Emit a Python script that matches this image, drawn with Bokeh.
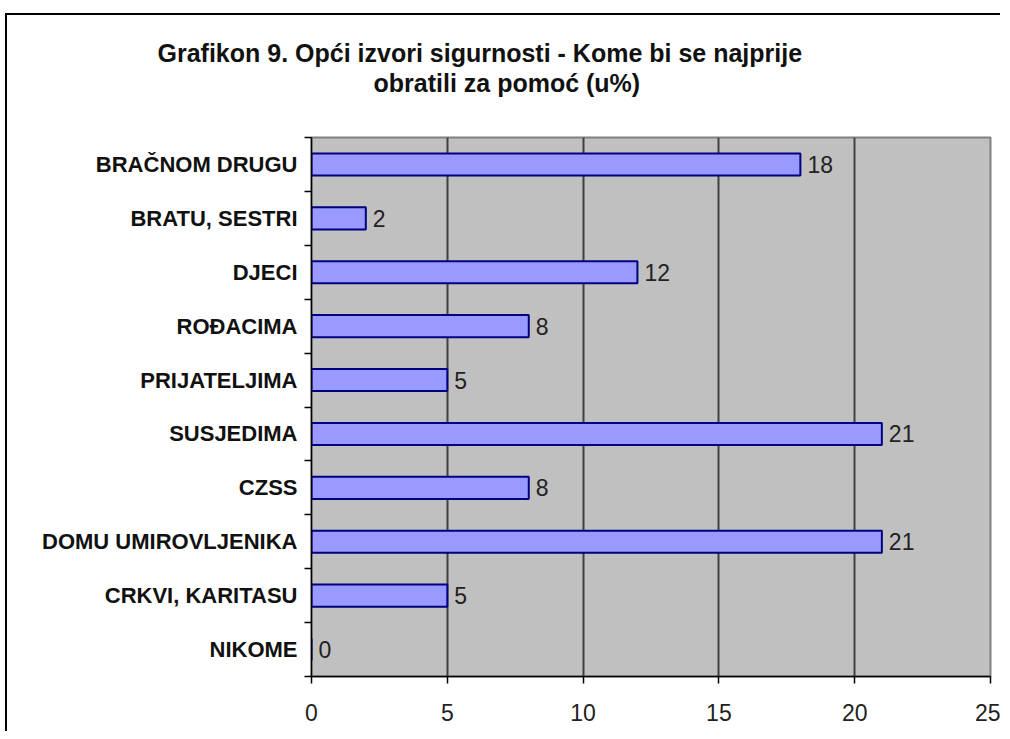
from bokeh.plotting import figure
from bokeh.models import (Range1d, FixedTicker, Title, ColumnDataSource)
from bokeh.core.properties import value
from bokeh.embed import file_html
from bokeh.resources import INLINE

# ---- data ----
categories = ["BRAČNOM DRUGU", "BRATU, SESTRI", "DJECI", "ROĐACIMA", "PRIJATELJIMA",
              "SUSJEDIMA", "CZSS", "DOMU UMIROVLJENIKA", "CRKVI, KARITASU", "NIKOME"]
values = [18, 2, 12, 8, 5, 21, 8, 21, 5, 0]
x_ticks = [0, 5, 10, 15, 20, 25]
title_line1 = "Grafikon 9. Opći izvori sigurnosti - Kome bi se najprije"
title_line2 = "obratili za pomoć (u%)"

n = len(categories)
positions = [n - 1 - i for i in range(n)]
boundaries = [k - 0.5 for k in range(n + 1)]

src = ColumnDataSource(dict(cat=categories, val=values, y=positions,
                            lbl=[str(v) for v in values]))

W, H = 1000, 731
p = figure(width=W, height=H, output_backend="svg", toolbar_location=None,
           x_range=Range1d(x_ticks[0], x_ticks[-1]), y_range=Range1d(-0.5, n - 0.5),
           min_border_left=311, min_border_right=10, min_border_top=137,
           min_border_bottom=55)

p.background_fill_color = "#C0C0C0"
p.border_fill_color = None
p.outline_line_color = "#808080"
p.outline_line_width = 2
# outer chart border (left and top edges only; right/bottom fall outside the picture)
p.styles = {"box-shadow": "inset 5px 13px 0 0 white, inset 7px 15px 0 0 black",
            "background-color": "white"}

SANS = "Liberation Sans, Arial"

# x axis
xa = p.xaxis[0]
xa.ticker = FixedTicker(ticks=x_ticks)
xa.axis_line_color = "black"
xa.axis_line_width = 1.5
xa.major_tick_line_color = "black"
xa.major_tick_line_width = 1.5
xa.major_tick_out = 7
xa.major_tick_in = 0
xa.minor_tick_line_color = None
xa.major_label_standoff = 20
xa.major_label_text_font = SANS
xa.major_label_text_font_size = "23px"
xa.major_label_text_color = "#222222"

# y axis
ya = p.yaxis[0]
ya.ticker = FixedTicker(ticks=positions, minor_ticks=boundaries)
ya.major_label_overrides = {pos: cat for pos, cat in zip(positions, categories)}
ya.axis_line_color = "black"
ya.axis_line_width = 1.5
ya.major_tick_line_color = None
ya.major_tick_out = 0
ya.major_tick_in = 0
ya.minor_tick_line_color = "black"
ya.minor_tick_line_width = 1.5
ya.minor_tick_out = 7
ya.minor_tick_in = 0
ya.major_label_standoff = 7
ya.major_label_text_font = SANS
ya.major_label_text_font_style = "bold"
ya.major_label_text_font_size = "22px"
ya.major_label_text_color = "#111111"

# grid
p.xgrid.ticker = FixedTicker(ticks=x_ticks[1:-1])
p.xgrid.grid_line_color = "#404040"
p.xgrid.grid_line_width = 2
p.ygrid.grid_line_color = None

# bars
p.hbar(y="y", left=0, right="val", height=0.41, source=src,
       fill_color="#9999FF", line_color="#000080", line_width=2)

# value labels
p.text(x="val", y="y", text="lbl", source=src, x_offset=7,
       text_baseline="middle", text_align="left",
       text_font=value(SANS), text_font_size="23px", text_color="#222222")

# title (two lines; first added sits closest to the plot)
spacer = Title(text=" ", text_font_size="1px", standoff=38)
t2 = Title(text=title_line2, align="left", offset=62, standoff=0,
           text_font=SANS, text_font_style="bold", text_font_size="25px",
           text_color="#111111")
t1 = Title(text=title_line1, align="left", offset=-154, standoff=0,
           text_font=SANS, text_font_style="bold", text_font_size="25px",
           text_color="#111111")
p.add_layout(spacer, "above")
p.add_layout(t2, "above")
p.add_layout(t1, "above")

open("out.html", "w").write(file_html(p, INLINE))
